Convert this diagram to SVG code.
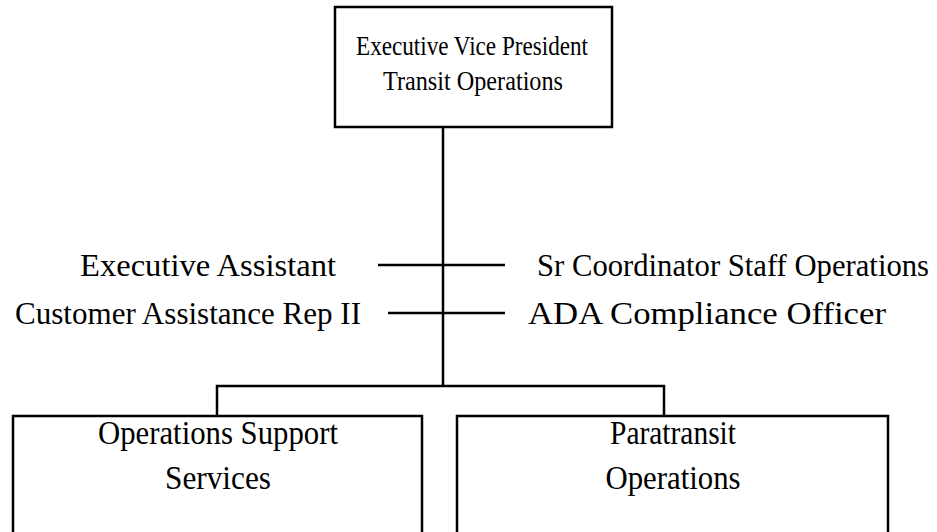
<svg xmlns="http://www.w3.org/2000/svg" width="937" height="532" viewBox="0 0 937 532">
<style>
.box{fill:#fff;stroke:#000;stroke-width:2.5}
.ln{stroke:#000;stroke-width:2.5;fill:none}
text{font-family:"Liberation Serif","Times New Roman",serif;fill:#000}
.t{font-size:27px;text-anchor:middle}
.l{font-size:31px}
.b{font-size:33px;text-anchor:middle}
</style>
<rect width="937" height="532" fill="#fff"/>
<g id="connectors">
<line class="ln" x1="443" y1="127" x2="443" y2="386"/>
<line class="ln" x1="378" y1="265" x2="505" y2="265"/>
<line class="ln" x1="388" y1="313" x2="505" y2="313"/>
<polyline class="ln" points="217,416 217,386 664,386 664,416"/>
</g>
<g id="evp">
<rect class="box" x="335" y="7" width="277" height="120"/>
<text class="t" x="472" y="55" textLength="232" lengthAdjust="spacingAndGlyphs">Executive Vice President</text>
<text class="t" x="473" y="90" textLength="180" lengthAdjust="spacingAndGlyphs">Transit Operations</text>
</g>
<g id="exec-assistant"><text class="l" x="80" y="276" textLength="256" lengthAdjust="spacingAndGlyphs">Executive Assistant</text></g>
<g id="sr-coordinator"><text class="l" x="537" y="276" textLength="392" lengthAdjust="spacingAndGlyphs">Sr Coordinator Staff Operations</text></g>
<g id="customer-rep"><text class="l" x="15" y="324" textLength="346" lengthAdjust="spacingAndGlyphs">Customer Assistance Rep II</text></g>
<g id="ada-officer"><text class="l" x="528" y="324" textLength="358" lengthAdjust="spacingAndGlyphs">ADA Compliance Officer</text></g>
<g id="ops-support">
<path class="ln" d="M13,540 V416 H422 V540"/>
<text class="b" x="218" y="444" textLength="240" lengthAdjust="spacingAndGlyphs">Operations Support</text>
<text class="b" x="218" y="489" textLength="106" lengthAdjust="spacingAndGlyphs">Services</text>
</g>
<g id="paratransit">
<path class="ln" d="M457,540 V416 H888 V540"/>
<text class="b" x="673" y="444" textLength="126" lengthAdjust="spacingAndGlyphs">Paratransit</text>
<text class="b" x="673" y="489" textLength="135" lengthAdjust="spacingAndGlyphs">Operations</text>
</g>
</svg>
